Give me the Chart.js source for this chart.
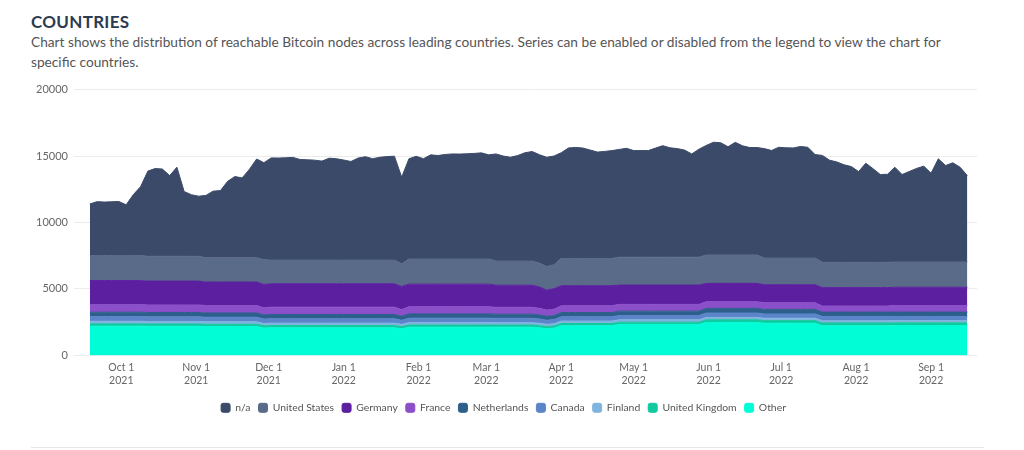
<!DOCTYPE html>
<html>
<head>
<meta charset="utf-8">
<script src="https://cdn.jsdelivr.net/npm/chart.js@4.4.1/dist/chart.umd.min.js"></script>
<style>
  html, body { margin: 0; padding: 0; background: #fff; }
  body { width: 1024px; height: 450px; position: relative; overflow: hidden; font-family: Lato, "Open Sans", sans-serif; }
  h2 { position: absolute; left: 31px; top: 11px; margin: 0; font-size: 17px; font-weight: 700; color: #2c3b50; letter-spacing: 0.3px; }
  p.sub { position: absolute; left: 31px; top: 32px; margin: 0; font-size: 13.7px; line-height: 20px; color: #555; white-space: nowrap; }
  #box { position: absolute; left: 20px; top: 77px; width: 975px; height: 346px; }
  .rule { position: absolute; left: 31px; right: 40px; top: 447px; border-top: 1px solid #e6e6e6; }
</style>
</head>
<body>
<h2>COUNTRIES</h2>
<p class="sub">Chart shows the distribution of reachable Bitcoin nodes across leading countries. Series can be enabled or disabled from the legend to view the chart for<br>specific countries.</p>
<div id="box"><canvas id="countries"></canvas></div>
<div class="rule"></div>
<script>
// samples every 3 days, first one on 18 Sep 2021 (day -13 counted from 1 Oct 2021)
const firstDay = -13
const stepDays = 3

const naNodes = [
  3880,4050,4020,4040,4060,3810,4580,5180,
  6410,6600,6560,6070,6700,4870,4630,4520,
  4700,5020,5060,5760,6120,6010,6660,7440,
  7305,
  7690,7680,7700,7730,7570,7550,7520,7450,7670,7630,7530,7420,7680,7780,7630,7740,7790,7820,
  6525,
  7540,7720,7540,7830,7780,7860,7900,7890,7910,7940,7980,7830,
  8060,7900,7810,7940,8150,8240,
  8157,8220,8185,
  7955,8315,8355,8305,8155,8005,8055,8115,
  8110,8190,8020,8020,8020,8210,8390,8230,8170,8060,7770,8130,
  8240,8480,8440,8140,8470,8210,8080,8080,
  8240,8100,8340,8300,8290,8400,8340,7790,
  8050,7690,7560,7340,7210,6830,7460,7050,6610,6630,
  7130,6580,6810,7040,7210,6680,7760,7260,7460,7130,6500
]
const usNodes = [
  1890,1890,1890,1890,1890,1890,1890,1890,
  1870,1870,1870,1870,1870,1870,1870,1870,
  1820,1820,1820,1820,1820,1820,1820,1820,
  1860,
  1780,1780,1780,1780,1780,1780,1780,1780,1780,1780,1780,1780,1780,1780,1780,1780,1780,1780,
  1700,
  1900,1900,1900,1900,1900,1900,1900,1900,1900,1900,1900,1900,
  1820,1820,1820,1820,1820,1820,
  1800,1780,1800,
  2050,2050,2050,2050,2050,2050,2050,2050,
  2100,2100,2100,2100,2100,2100,2100,2100,2100,2100,2100,2100,
  2140,2140,2140,2140,2140,2140,2140,2140,
  2000,2000,2000,2000,2000,2000,2000,2000,
  1900,1900,1900,1900,1900,1900,1900,1900,1900,1900,
  1900,1900,1900,1900,1900,1900,1900,1900,1900,1900,1900
]
const germanyNodes = [
  1800,1800,1800,1800,1800,1800,1800,1800,
  1790,1790,1790,1790,1790,1790,1790,1790,
  1770,1770,1770,1770,1770,1770,1770,1770,
  1750,
  1760,1760,1760,1760,1760,1760,1760,1760,1760,1760,1760,1760,1760,1760,1760,1760,1760,1760,
  1740,
  1700,1700,1700,1700,1700,1700,1700,1700,1700,1700,1700,1700,
  1660,1660,1660,1660,1660,1660,
  1600,1500,1540,
  1500,1500,1500,1500,1500,1500,1500,1500,
  1450,1450,1450,1450,1450,1450,1450,1450,1450,1450,1450,1450,
  1380,1380,1380,1380,1380,1380,1380,1380,
  1360,1360,1360,1360,1360,1360,1360,1360,
  1380,1380,1380,1380,1380,1380,1380,1380,1380,1380,
  1380,1380,1380,1380,1380,1380,1380,1380,1380,1380,1380
]
const franceNodes = [
  580,580,580,580,580,580,580,580,
  570,570,570,570,570,570,570,570,
  560,560,560,560,560,560,560,560,
  540,
  550,550,550,550,550,550,550,550,550,550,550,550,550,550,550,550,550,550,
  500,
  540,540,540,540,540,540,540,540,540,540,540,540,
  520,520,520,520,520,520,
  500,470,480,
  520,520,520,520,520,520,520,520,
  510,510,510,510,510,510,510,510,510,510,510,510,
  500,500,500,500,500,500,500,500,
  500,500,500,500,500,500,500,500,
  460,460,460,460,460,460,460,460,460,460,
  490,490,490,490,490,490,490,490,490,490,490
]
const netherlandsNodes = [
  330,330,330,330,330,330,330,330,
  330,330,330,330,330,330,330,330,
  320,320,320,320,320,320,320,320,
  310,
  320,320,320,320,320,320,320,320,320,320,320,320,320,320,320,320,320,320,
  300,
  320,320,320,320,320,320,320,320,320,320,320,320,
  310,310,310,310,310,310,
  305,295,300,
  320,320,320,320,320,320,320,320,
  330,330,330,330,330,330,330,330,330,330,330,330,
  350,350,350,350,350,350,350,350,
  340,340,340,340,340,340,340,340,
  330,330,330,330,330,330,330,330,330,330,
  330,330,330,330,330,330,330,330,330,330,330
]
const canadaNodes = [
  350,350,350,350,350,350,350,350,
  345,345,345,345,345,345,345,345,
  340,340,340,340,340,340,340,340,
  330,
  330,330,330,330,330,330,330,330,330,330,330,330,330,330,330,330,330,330,
  310,
  330,330,330,330,330,330,330,330,330,330,330,330,
  325,325,325,325,325,325,
  318,305,310,
  320,320,320,320,320,320,320,320,
  320,320,320,320,320,320,320,320,320,320,320,320,
  330,330,330,330,330,330,330,330,
  320,320,320,320,320,320,320,320,
  320,320,320,320,320,320,320,320,320,320,
  310,310,310,310,310,310,310,310,310,310,310
]
const finlandNodes = [
  200,200,200,200,200,200,200,200,
  195,195,195,195,195,195,195,195,
  190,190,190,190,190,190,190,190,
  180,
  185,185,185,185,185,185,185,185,185,185,185,185,185,185,185,185,185,185,
  175,
  185,185,185,185,185,185,185,185,185,185,185,185,
  180,180,180,180,180,180,
  178,172,175,
  185,185,185,185,185,185,185,185,
  180,180,180,180,180,180,180,180,180,180,180,180,
  180,180,180,180,180,180,180,180,
  180,180,180,180,180,180,180,180,
  170,170,170,170,170,170,170,170,170,170,
  170,170,170,170,170,170,170,170,170,170,170
]
const ukNodes = [
  170,170,170,170,170,170,170,170,
  170,170,170,170,170,170,170,170,
  170,170,170,170,170,170,170,170,
  165,
  165,165,165,165,165,165,165,165,165,165,165,165,165,165,165,165,165,165,
  160,
  165,165,165,165,165,165,165,165,165,165,165,165,
  165,165,165,165,165,165,
  162,158,160,
  170,170,170,170,170,170,170,170,
  170,170,170,170,170,170,170,170,170,170,170,170,
  200,200,200,200,200,200,200,200,
  200,200,200,200,200,200,200,200,
  210,210,210,210,210,210,210,210,210,210,
  200,200,200,200,200,200,200,200,200,200,200
]
const otherNodes = [
  2200,2200,2200,2200,2200,2200,2200,2200,
  2190,2190,2190,2190,2190,2190,2190,2190,
  2170,2170,2170,2170,2170,2170,2170,2170,
  2060,
  2080,2080,2080,2080,2080,2080,2080,2080,2080,2080,2080,2080,2080,2080,2080,2080,2080,2080,
  2000,
  2120,2120,2120,2120,2120,2120,2120,2120,2120,2120,2120,2120,
  2120,2120,2120,2120,2120,2120,
  2080,2010,2050,
  2230,2230,2230,2230,2230,2230,2230,2230,
  2330,2330,2330,2330,2330,2330,2330,2330,2330,2330,2330,2330,
  2480,2480,2480,2480,2480,2480,2480,2480,
  2420,2420,2420,2420,2420,2420,2420,2420,
  2230,2230,2230,2230,2230,2230,2230,2230,2230,2230,
  2250,2250,2250,2250,2250,2250,2250,2250,2250,2250,2250
]

// month starts, in days from 1 Oct 2021
const monthDays = [0, 31, 61, 92, 123, 151, 182, 212, 243, 273, 304, 335]
const monthLabels = [
  ['Oct 1', '2021'], ['Nov 1', '2021'], ['Dec 1', '2021'], ['Jan 1', '2022'],
  ['Feb 1', '2022'], ['Mar 1', '2022'], ['Apr 1', '2022'], ['May 1', '2022'],
  ['Jun 1', '2022'], ['Jul 1', '2022'], ['Aug 1', '2022'], ['Sep 1', '2022']
]

const days = naNodes.map((_, i) => firstDay + i * stepDays)

// bottom of the stack first
const series = [
  { label: 'Other', data: otherNodes, color: '#00fdd6' },
  { label: 'United Kingdom', data: ukNodes, color: '#12c99f' },
  { label: 'Finland', data: finlandNodes, color: '#7fb4de' },
  { label: 'Canada', data: canadaNodes, color: '#5b85c8' },
  { label: 'Netherlands', data: netherlandsNodes, color: '#2c5f8b' },
  { label: 'France', data: franceNodes, color: '#8b4fc9' },
  { label: 'Germany', data: germanyNodes, color: '#5b1fa0' },
  { label: 'United States', data: usNodes, color: '#5a6a89' },
  { label: 'n/a', data: naNodes, color: '#3b4a68' }
]

const ctx = document.getElementById('countries')

new Chart(ctx, {
  type: 'line',
  data: {
    datasets: series.map((s, i) => ({
      label: s.label,
      data: s.data.map((v, j) => ({ x: days[j], y: v })),
      backgroundColor: s.color,
      borderColor: s.color,
      borderWidth: 1,
      pointRadius: 0,
      tension: 0,
      fill: i === 0 ? 'origin' : '-1'
    }))
  },
  options: {
    responsive: true,
    maintainAspectRatio: false,
    animation: false,
    layout: { padding: { top: 0, right: 18, left: 10, bottom: 0 } },
    plugins: {
      legend: {
        position: 'bottom',
        reverse: true,
        labels: {
          boxWidth: 9,
          boxHeight: 9,
          useBorderRadius: true,
          borderRadius: 2,
          padding: 8,
          color: '#555',
          font: { family: 'Lato', size: 10.4 }
        }
      },
      tooltip: { enabled: false }
    },
    scales: {
      x: {
        type: 'linear',
        min: -16.3,
        max: 354,
        grid: { display: false, drawTicks: false },
        border: { display: false },
        afterBuildTicks: (scale) => {
          scale.ticks = monthDays.map(v => ({ value: v }))
        },
        // a little room between the dates and the legend
        afterFit: (scale) => { scale.height += 2 },
        ticks: {
          autoSkip: false,
          maxRotation: 0,
          padding: 6,
          color: '#666',
          font: { family: 'Lato', size: 10.5 },
          callback: (value) => monthLabels[monthDays.indexOf(value)]
        }
      },
      y: {
        stacked: true,
        min: 0,
        max: 20000,
        border: { display: false },
        grid: { color: '#ececec', tickLength: 8 },
        ticks: {
          stepSize: 5000,
          padding: 6,
          color: '#666',
          font: { family: 'Lato', size: 11 },
          callback: (value) => String(value)
        }
      }
    }
  }
})
</script>
</body>
</html>
